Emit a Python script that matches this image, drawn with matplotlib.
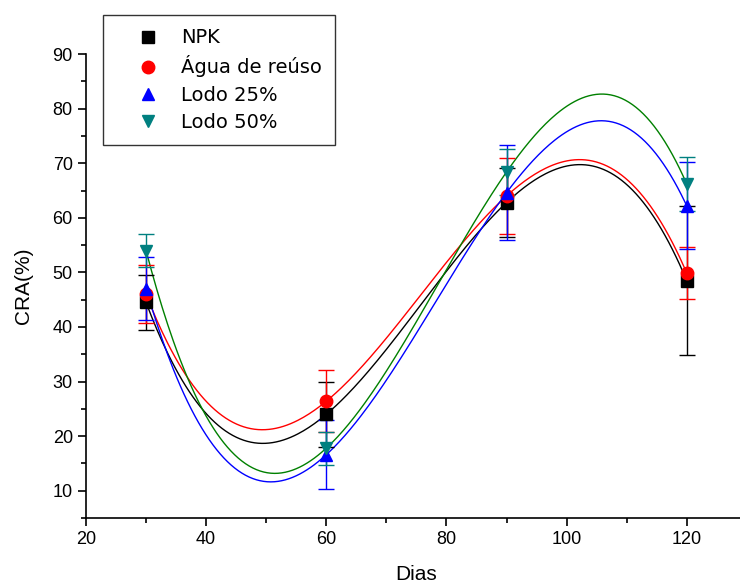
import matplotlib
matplotlib.use("Agg")
import matplotlib.pyplot as plt
from matplotlib.ticker import MultipleLocator
import numpy as np

dias = [30, 60, 90, 120]

npk = [44.5, 24.0, 62.8, 48.5]
npk_err = [5.0, 6.0, 6.4, 13.7]
agua = [46.0, 26.4, 64.0, 49.9]
agua_err = [5.3, 5.7, 7.0, 4.7]
lodo25 = [47.0, 16.6, 64.6, 62.2]
lodo25_err = [5.8, 6.3, 8.7, 8.0]
lodo50 = [54.0, 17.8, 68.4, 66.2]
lodo50_err = [3.0, 3.0, 4.2, 5.0]

labels = ["NPK", "Água de reúso", "Lodo 25%", "Lodo 50%"]
series = [npk, agua, lodo25, lodo50]
errors = [npk_err, agua_err, lodo25_err, lodo50_err]
markers = ["s", "o", "^", "v"]
point_colors = ["black", "#ff0000", "#0000ff", "#008080"]
fit_colors = ["black", "#ff0000", "#0000ff", "#008000"]

fig = plt.figure(figsize=(7.4, 5.88), dpi=100)
ax = fig.add_axes([0.1162, 0.119, 0.893, 0.789])

# cubic fits through each series
xfit = np.linspace(30, 120, 300)
for vals, col in zip(series, fit_colors):
    coef = np.polyfit(dias, vals, 3)
    ax.plot(xfit, np.polyval(coef, xfit), color=col, lw=1.0, zorder=2)

handles = []
for vals, err, m, col, lab in zip(series, errors, markers, point_colors, labels):
    ax.errorbar(dias, vals, yerr=err, fmt="none", ecolor=col, elinewidth=1.0,
                capsize=6, capthick=1.0, zorder=3)
    h, = ax.plot(dias, vals, linestyle="none", marker=m, markersize=9,
                 color=col, label=lab, zorder=4)
    handles.append(h)

ax.set_xlim(20, 130)
ax.set_ylim(5, 90)
ax.xaxis.set_major_locator(MultipleLocator(20))
ax.xaxis.set_minor_locator(MultipleLocator(10))
ax.yaxis.set_major_locator(MultipleLocator(10))
ax.yaxis.set_minor_locator(MultipleLocator(5))
ax.set_yticks(range(10, 91, 10))

for s in ["top", "right"]:
    ax.spines[s].set_visible(False)
for s in ["left", "bottom"]:
    ax.spines[s].set_linewidth(1.2)

ax.tick_params(which="major", direction="out", length=6, width=1.2,
               labelsize=13)
ax.tick_params(which="minor", direction="out", length=3.5, width=1.2)
for lbl in ax.get_xticklabels() + ax.get_yticklabels():
    lbl.set_family("Liberation Sans")

ax.set_xlabel("Dias", fontsize=15, family="Liberation Sans", labelpad=12)
ax.set_ylabel("CRA(%)", fontsize=15, family="Liberation Sans", labelpad=14)

leg = fig.legend(handles=handles, loc="upper left",
                 bbox_to_anchor=(0.139, 0.975), fontsize=14,
                 frameon=True, fancybox=False, edgecolor="black",
                 handlelength=3.2, handletextpad=0.1, borderpad=0.7,
                 labelspacing=0.42, borderaxespad=0)
leg.get_frame().set_linewidth(1.0)

fig.savefig("out.png", dpi=100)
